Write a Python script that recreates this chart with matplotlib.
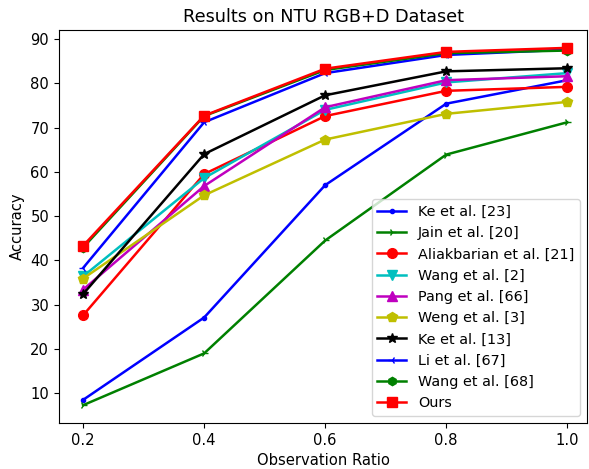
import numpy as np
import matplotlib
matplotlib.use('Agg')
import matplotlib.pyplot as plt

plt.rcParams['font.size'] = 10.6

ratios = [0.2, 0.4, 0.6, 0.8, 1.0]

ke23 = [8.5, 27.1, 57.0, 75.4, 80.7]
jain20 = [7.3, 19.0, 44.5, 63.9, 71.2]
aliak21 = [27.6, 59.5, 72.6, 78.3, 79.2]
wang2 = [36.4, 58.6, 74.0, 80.2, 82.3]
pang66 = [33.4, 56.8, 74.6, 80.7, 81.6]
weng3 = [35.9, 54.7, 67.3, 73.1, 75.8]
ke13 = [32.4, 64.0, 77.3, 82.7, 83.4]
li67 = [38.3, 71.2, 82.3, 86.4, 87.6]
wang68 = [42.9, 72.6, 83.0, 86.8, 87.4]
ours = [43.3, 72.7, 83.3, 87.1, 88.0]

series = [
    ('Ke et al. [23]', ke23, 'b', '.', 6),
    ('Jain et al. [20]', jain20, 'g', '4', 6),
    ('Aliakbarian et al. [21]', aliak21, 'r', 'o', 7),
    ('Wang et al. [2]', wang2, 'c', 'v', 7),
    ('Pang et al. [66]', pang66, 'm', '^', 7),
    ('Weng et al. [3]', weng3, 'y', 'p', 7),
    ('Ke et al. [13]', ke13, 'k', '*', 7),
    ('Li et al. [67]', li67, 'b', '3', 6),
    ('Wang et al. [68]', wang68, 'g', 'h', 6),
    ('Ours', ours, 'r', 's', 7),
]

fig = plt.figure(figsize=(5.89, 4.69), dpi=100)
ax = fig.add_axes([0.100, 0.098, 0.897, 0.838])

for name, vals, col, mk, ms in series:
    ax.plot(ratios, vals, '-', color=col, marker=mk, markersize=ms,
            linewidth=1.8, label=name)

ax.set_xlim(0.16, 1.033)
ax.set_xticks(ratios)
ax.set_xlabel('Observation Ratio')
ax.set_ylabel('Accuracy')
ax.set_title('Results on NTU RGB+D Dataset')
ax.legend(loc='lower right', fontsize=10.4)

fig.savefig('out.png', dpi=100)
